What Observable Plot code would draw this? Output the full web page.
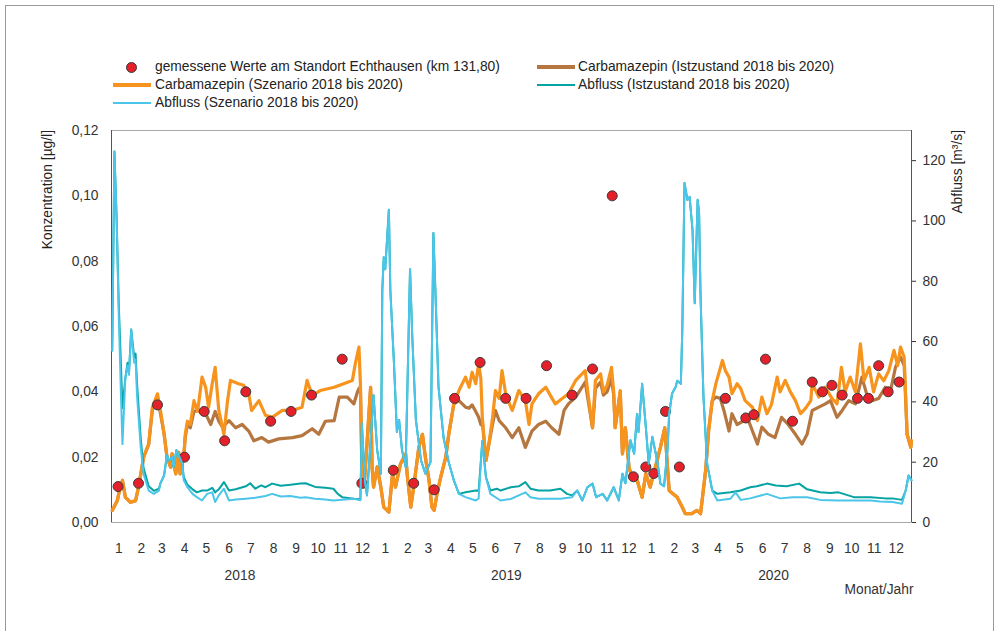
<!DOCTYPE html>
<html>
<head>
<meta charset="utf-8">
<script src="https://cdn.jsdelivr.net/npm/d3@7"></script>
<script src="https://cdn.jsdelivr.net/npm/@observablehq/plot@0.6"></script>
<style>
  body { margin: 0; background: #fff; }
  #wrap { position: relative; width: 998px; height: 631px; overflow: hidden;
          font-family: "Liberation Sans", Arial, sans-serif; font-size: 13.8px; color: #222; }
  #wrap svg.plot { position: absolute; left: 0; top: 0; }
  #border { position: absolute; left: 5px; top: 5px; width: 987px; height: 660px; border: 1px solid #9a9a9a; }
  .lg { position: absolute; white-space: nowrap; line-height: 16px; }
  .sym { position: absolute; }
  .ytitle { position: absolute; white-space: nowrap; line-height: 16px; transform-origin: top left;
            transform: rotate(-90deg) translateX(-100%); color: #222; }
</style>
</head>
<body>
<div id="wrap"><div id="border"></div></div>
<script>
// ---------- data (day = days since 2018-01-01) ----------
const concTicks = [0, 0.02, 0.04, 0.06, 0.08, 0.10, 0.12];
const flowTicks = [0, 20, 40, 60, 80, 100, 120];
const monthLabels = ["1","2","3","4","5","6","7","8","9","10","11","12"];
const yearLabels = ["2018", "2019", "2020"];

// measured values at Echthausen (km 131,80): [day, µg/l]
const gemessen = [[9,.011],[37,.012],[63,.036],[100,.020],[127,.034],[155,.025],[184,.040],[218,.031],[246,.034],[274,.039],[316,.050],[343,.012],[386,.016],[414,.012],[442,.010],[470,.038],[505,.049],[540,.038],[568,.038],[596,.048],[631,.039],[659,.047],[686,.100],[715,.014],[732,.017],[743,.015],[759,.034],[778,.017],[841,.038],[869,.032],[880,.033],[896,.050],[933,.031],[960,.043],[974,.040],[987,.042],[1001,.039],[1022,.038],[1037,.038],[1051,.048],[1064,.040],[1079,.043]];

// Carbamazepin (Szenario 2018 bis 2020): [day, µg/l]
const carbSzenario = [[1,.0037],[8,.0067],[11,.010],[15,.0129],[19,.0077],[26,.0062],[33,.0067],[37,.0108],[44,.020],[51,.024],[56,.0353],[63,.0394],[67,.0343],[72,.0272],[76,.020],[81,.0169],[83,.021],[88,.0149],[92,.0215],[94,.0149],[99,.020],[101,.027],[104,.031],[108,.030],[113,.0373],[118,.034],[124,.0445],[129,.0414],[133,.0353],[138,.0425],[142,.0475],[147,.0343],[154,.027],[159,.0373],[163,.0435],[174,.0425],[181,.042],[188,.0394],[192,.0343],[202,.0373],[211,.0328],[220,.0322],[234,.0343],[248,.0343],[261,.0353],[268,.0435],[275,.0389],[286,.0404],[305,.0414],[318,.0425],[330,.0435],[334,.0486],[339,.0537],[341,.0425],[343,.0169],[346,.0108],[350,.024],[355,.0414],[357,.017],[359,.0108],[364,.017],[369,.0108],[373,.0047],[380,.0032],[385,.0149],[389,.0108],[396,.018],[403,.021],[405,.0149],[410,.0047],[414,.0108],[421,.023],[426,.027],[430,.020],[435,.0129],[439,.0047],[442,.0037],[446,.0088],[451,.0139],[458,.020],[462,.027],[469,.0363],[476,.0404],[485,.0445],[490,.0414],[494,.046],[499,.0425],[503,.0486],[506,.044],[508,.0322],[513,.019],[517,.024],[522,.032],[526,.0404],[531,.038],[535,.0465],[540,.0394],[547,.0353],[549,.0343],[558,.0404],[567,.0373],[572,.030],[576,.0363],[585,.0394],[595,.0414],[601,.039],[608,.0363],[617,.0379],[626,.0394],[636,.0435],[649,.0465],[654,.0373],[659,.029],[663,.0435],[670,.0455],[674,.040],[679,.042],[685,.0475],[688,.040],[690,.029],[697,.0404],[700,.021],[704,.029],[709,.0169],[713,.0139],[720,.013],[727,.0077],[732,.0149],[738,.0108],[745,.0169],[752,.023],[758,.029],[764,.0098],[768,.009],[775,.0077],[782,.0047],[786,.0027],[795,.0027],[802,.0037],[807,.0027],[814,.016],[818,.028],[823,.0373],[828,.0425],[837,.0496],[841,.0465],[846,.0445],[850,.0394],[857,.0425],[862,.041],[868,.0373],[878,.0353],[885,.0312],[891,.0384],[898,.0333],[904,.036],[912,.0445],[916,.040],[923,.0435],[930,.040],[937,.0373],[944,.0333],[951,.035],[958,.0373],[960,.0425],[969,.0384],[978,.0414],[987,.038],[994,.0363],[1000,.0475],[1005,.040],[1012,.0445],[1019,.040],[1026,.0547],[1031,.0434],[1038,.0475],[1044,.040],[1051,.0455],[1058,.0434],[1065,.0465],[1072,.0527],[1077,.048],[1081,.0537],[1086,.0506],[1090,.027],[1095,.023],[1096,.025]];

// Carbamazepin (Istzustand 2018 bis 2020): parts that differ from the scenario
const carbIstA = [[1,.0037],[8,.0067],[11,.010],[15,.0129],[19,.0077],[26,.0062],[33,.0067],[37,.0108],[44,.020],[51,.024],[56,.0345],[63,.038],[67,.0335],[72,.0272],[76,.020],[81,.0169],[83,.021],[88,.0149],[92,.0215],[94,.0149],[99,.020],[101,.026],[104,.030],[108,.029],[113,.034],[120,.0343],[129,.0333],[136,.030],[142,.034],[147,.031],[152,.0292],[161,.0312],[170,.029],[179,.030],[188,.028],[195,.025],[206,.026],[215,.0246],[229,.0256],[248,.026],[261,.0266],[275,.0287],[284,.027],[293,.031],[305,.0312],[312,.0384],[323,.0384],[332,.0363],[337,.040],[339,.041],[341,.0415]];
const carbIstB = [[476,.0373],[485,.0353],[490,.035],[494,.036],[499,.034],[503,.0322],[506,.030],[508,.031],[513,.019],[517,.024],[522,.030],[526,.0343],[531,.0312],[540,.029],[549,.026],[558,.029],[567,.023],[576,.028],[585,.030],[595,.031],[603,.029],[613,.027],[620,.0343],[626,.0363],[636,.0384],[649,.043],[654,.036],[659,.029],[663,.041],[670,.043],[674,.039],[679,.040],[685,.044],[688,.039],[690,.029],[697,.040],[700,.021]];
const carbIstC = [[828,.0384],[834,.038],[839,.0343],[846,.028],[850,.0333],[857,.030],[865,.031],[873,.031],[885,.024],[891,.0292],[900,.027],[909,.026],[918,.0322],[927,.030],[937,.027],[946,.024],[953,.027],[960,.0343],[969,.0353],[978,.0363],[985,.0373],[994,.0322],[1001,.0343],[1010,.0373],[1019,.0363],[1028,.0445],[1035,.039],[1042,.0373],[1051,.038],[1060,.0414],[1067,.040],[1074,.0475],[1081,.0506],[1086,.048],[1090,.027],[1095,.023],[1096,.025]];

// Abfluss (Szenario 2018 bis 2020): [day, m³/s]
const abflussSzenario = [[1,57],[4,123],[7,101],[10,68],[13,42],[15,26],[19,48],[22,52],[24,49],[27,64],[31,53],[33,54],[35,42],[40,25],[44,16],[51,10.6],[58,9.5],[65,10.6],[67,12.9],[72,15.6],[76,22.3],[79,20.6],[83,21.7],[85,18.4],[89,24],[92,22.3],[97,19.5],[99,14],[104,11.7],[111,9.5],[117,8.4],[124,7.3],[131,9.5],[138,10],[142,6.8],[147,9],[154,11.2],[161,7.3],[170,7.6],[184,7.9],[197,8.2],[211,8.8],[220,9.5],[232,8.6],[245,8.8],[259,8.2],[266,8.4],[279,7.9],[293,7.6],[304,7.3],[320,7.6],[332,7.9],[341,7.4],[343,32.8],[347,14],[350,9],[355,27.3],[359,42.2],[364,24],[369,16.2],[371,77],[373,88],[375,84],[380,103.7],[382,77],[387,52.8],[391,30],[394,34],[398,24],[403,18.4],[409,84],[412,62],[417,34],[424,20.6],[430,16.2],[437,20],[441,96],[444,75],[448,45],[455,28],[462,20],[469,14],[476,9.5],[485,8.4],[499,7.3],[503,8],[508,27],[513,15],[519,9.5],[533,7.3],[547,7.8],[558,9],[567,10],[574,8.4],[585,7.9],[601,7.9],[615,7.9],[631,8.4],[638,10.6],[645,7.3],[652,11.7],[659,12.9],[664,8.4],[673,9.5],[679,7.3],[688,11.7],[695,7.3],[700,16.2],[704,13],[711,27.3],[716,22.8],[720,36],[722,30],[727,46],[732,31.7],[736,19.5],[741,28.4],[748,20],[752,12.9],[757,12],[762,25],[764,36],[768,42.8],[773,45],[775,47],[780,46],[782,63.8],[785,112.6],[789,107],[792,108],[796,97],[799,72.7],[803,107],[805,102.6],[807,75],[811,41.7],[816,19.5],[823,10.6],[830,7.3],[848,7.9],[855,10],[862,7.5],[875,8],[898,9.5],[916,8],[933,8.4],[953,8.4],[971,7.5],[996,7.3],[1017,7.3],[1040,7.3],[1053,7],[1070,6.8],[1083,6.2],[1088,10.6],[1092,15.6],[1096,14]];

// Abfluss (Istzustand 2018 bis 2020): parts that differ from the scenario
const abflussIstA = [[1,57],[4,123],[7,101],[10,72],[13,52],[15,38],[19,48],[22,53],[24,50],[27,64],[31,55],[33,56],[35,46],[40,28],[44,18],[51,12],[58,10.5],[65,11.2],[67,13],[72,15.6],[76,22.3],[79,20.6],[83,21.7],[85,18.4],[89,24],[92,22.3],[97,19.5],[99,15],[104,12.5],[111,11],[117,10],[124,10.6],[131,10.6],[138,11.5],[142,10],[147,11],[154,13.4],[161,10.6],[170,11],[184,12],[190,13],[197,11.2],[205,12.3],[211,11.7],[220,12.9],[232,12.2],[245,12.5],[259,12.9],[266,13],[279,11.8],[293,11.5],[304,11.2],[310,9.5],[316,8.4],[332,7.9],[341,7.7]];
const abflussIstB = [[476,9.5],[485,10],[499,10.6],[503,10.5],[508,27],[513,15],[519,10.6],[528,11.2],[533,10.6],[547,11.7],[558,12],[567,13.4],[574,11.2],[585,10.6],[601,10.6],[615,11.2],[624,9.5],[631,9],[638,10.6]];
const abflussIstC = [[830,9.5],[848,10],[862,10.6],[875,11.7],[884,12],[898,12.9],[910,12.3],[925,12],[942,12.9],[953,11],[971,10],[985,9.8],[996,10],[1017,8.4],[1040,8.4],[1060,8],[1070,8],[1083,7.5],[1088,10.6],[1092,15.6],[1096,14]];

// ---------- assembly ----------
const between = (arr, a, b) => arr.filter(d => d[0] >= a && d[0] <= b);
const carbIst = [...carbIstA, ...between(carbSzenario, 343, 469), ...carbIstB, ...between(carbSzenario, 704, 823), ...carbIstC];
const abflussIst = [...abflussIstA, ...between(abflussSzenario, 343, 469), ...abflussIstB, ...between(abflussSzenario, 645, 823), ...abflussIstC];

const K = 0.12 / 130;                 // m³/s -> position on concentration axis
const t0 = Date.UTC(2018, 0, 1);
const toDate = d => new Date(t0 + d * 864e5);
const xStart = new Date(Date.UTC(2018, 0, 1)), xEnd = new Date(Date.UTC(2021, 0, 1));

const monthTicks = [2018, 2019, 2020].flatMap(y => monthLabels.map((l, i) => ({date: new Date(Date.UTC(y, i, 11)), label: l})));
const yearTicks = yearLabels.map(y => ({date: new Date(Date.UTC(+y, 5, 26)), label: y}));

const C = {mess: "#E4202A", brown: "#B5773F", orange: "#F7941D", teal: "#05A3A3", blue: "#4CC5EA"};
const fmt = v => d3.format(".2f")(v).replace(".", ",");

const plot = Plot.plot({
  width: 998, height: 631,
  marginLeft: 111, marginRight: 87, marginTop: 130, marginBottom: 109,
  style: {fontFamily: "Liberation Sans, Arial, sans-serif", fontSize: "13.8px", color: "#333", background: "transparent"},
  x: {type: "utc", domain: [xStart, xEnd], axis: null},
  y: {domain: [0, 0.12]},
  marks: [
    Plot.frame({stroke: "#a8a8a8"}),
    Plot.ruleX([xStart, xEnd], {stroke: "#555"}),
    Plot.axisY({anchor: "left", ticks: concTicks, tickFormat: fmt, tickSize: 0, tickPadding: 13, label: null}),
    Plot.axisY({anchor: "right", ticks: flowTicks.map(q => q * K), tickFormat: v => String(Math.round(v / K)), tickSize: 4, tickPadding: 7, label: null}),
    Plot.text(monthTicks, {x: "date", y: () => 0, text: "label", dy: 26, fill: "#333"}),
    Plot.text(yearTicks, {x: "date", y: () => 0, text: "label", dy: 53, fill: "#333"}),
    Plot.text(["Monat/Jahr"], {x: () => xEnd, y: () => 0, text: d => d, dy: 67, dx: 2, textAnchor: "end", fill: "#333"}),
    Plot.line(carbIst, {x: d => toDate(d[0]), y: d => d[1], stroke: C.brown, strokeWidth: 3.2, strokeLinejoin: "round"}),
    Plot.line(carbSzenario, {x: d => toDate(d[0]), y: d => d[1], stroke: C.orange, strokeWidth: 3.2, strokeLinejoin: "round"}),
    Plot.dot(gemessen, {x: d => toDate(d[0]), y: d => d[1], r: 5, fill: C.mess, stroke: "#3a3a3a", strokeWidth: 1}),
    Plot.line(abflussIst, {x: d => toDate(d[0]), y: d => d[1] * K, stroke: C.teal, strokeWidth: 2, strokeLinejoin: "round"}),
    Plot.line(abflussSzenario, {x: d => toDate(d[0]), y: d => d[1] * K, stroke: C.blue, strokeWidth: 2, strokeLinejoin: "round"})
  ]
});
plot.classList.add("plot");
const wrap = document.getElementById("wrap");
wrap.appendChild(plot);

// ---------- legend ----------
const legendItems = [
  {label: "gemessene Werte am Standort Echthausen (km 131,80)", type: "dot", color: C.mess, col: 0, row: 0},
  {label: "Carbamazepin (Istzustand 2018 bis 2020)", type: "line", w: 3.2, color: C.brown, col: 1, row: 0},
  {label: "Carbamazepin (Szenario 2018 bis 2020)", type: "line", w: 3.2, color: C.orange, col: 0, row: 1},
  {label: "Abfluss (Istzustand 2018 bis 2020)", type: "line", w: 2, color: C.teal, col: 1, row: 1},
  {label: "Abfluss (Szenario 2018 bis 2020)", type: "line", w: 2, color: C.blue, col: 0, row: 2}
];
const colSym = [113, 537], colText = [155, 578], rowY = [67, 85, 103];
for (const it of legendItems) {
  const s = document.createElement("div");
  s.className = "sym";
  if (it.type === "dot") {
    s.style.cssText = `left:${colSym[it.col] + 13}px;top:${rowY[it.row] - 5}px;width:9px;height:9px;border-radius:50%;background:${it.color};border:1px solid #3a3a3a;`;
  } else {
    s.style.cssText = `left:${colSym[it.col]}px;top:${rowY[it.row] - it.w / 2}px;width:38px;height:${it.w}px;background:${it.color};`;
  }
  wrap.appendChild(s);
  const t = document.createElement("div");
  t.className = "lg";
  t.textContent = it.label;
  t.style.left = colText[it.col] + "px";
  t.style.top = (rowY[it.row] - 8) + "px";
  wrap.appendChild(t);
}

// ---------- axis titles ----------
const titles = [{text: "Konzentration [µg/l]", x: 48}, {text: "Abfluss [m³/s]", x: 958}];
for (const tt of titles) {
  const d = document.createElement("div");
  d.className = "ytitle";
  d.textContent = tt.text;
  d.style.left = (tt.x - 8) + "px";
  d.style.top = "130px";
  wrap.appendChild(d);
}
</script>
</body>
</html>
